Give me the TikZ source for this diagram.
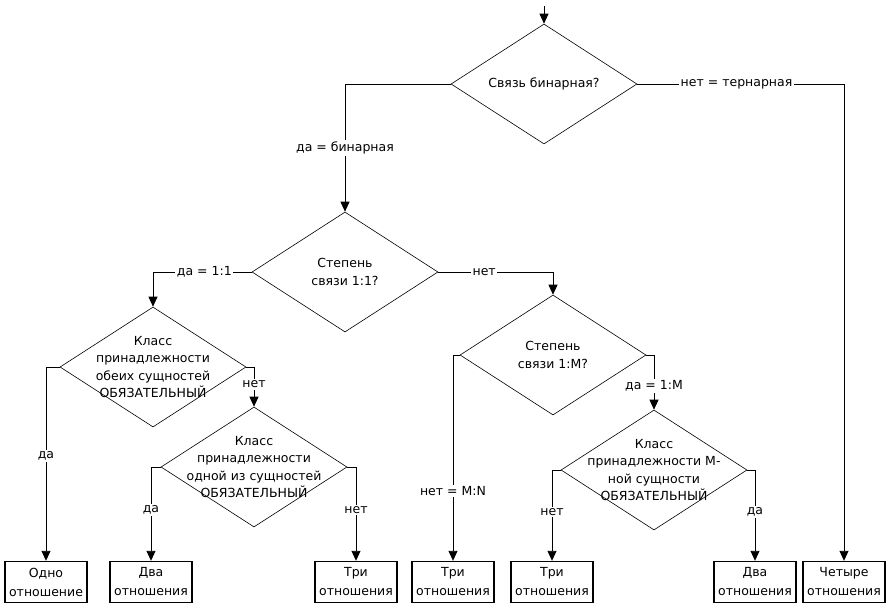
\documentclass[tikz,border=0pt]{standalone}
\usepackage{fontspec}
\setmainfont{DejaVu Sans}
\usetikzlibrary{shapes.geometric,arrows.meta}
\tikzset{
	dec/.style={draw,diamond,minimum width=186pt,minimum height=120pt,inner sep=0pt,line width=0.6pt},
	res/.style={draw,line width=1.4pt,minimum width=82pt,minimum height=41pt,align=center,inner sep=0pt,font=\fontsize{12.5}{19}\selectfont},
	txt/.style={align=center,inner sep=0pt},
	lbl/.style={fill=white,inner sep=1.5pt},
	arr/.style={-{Triangle[width=9pt,length=10pt]},line width=0.9pt},
}
\begin{document}
\begin{tikzpicture}[x=1pt,y=-1pt,font=\fontsize{12.5}{17.5}\selectfont]
			\useasboundingbox (0,0) rectangle (892,608);
			% questions
			\node[dec] (d1) at (544,84) {};
			\node[dec] (d2) at (345,272) {};
			\node[dec] (d3) at (153,367) {};
			\node[dec] (d4) at (553,355) {};
			\node[dec] (d5) at (254,467) {};
			\node[dec] (d6) at (654,470) {};
			\node[txt] (t1) at (d1) {Связь бинарная?};
			\node[txt] (t2) at (d2) {Степень\\связи 1:1?};
			\node[txt] (t3) at (d3) {Класс\\принадлежности\\обеих сущностей\\ОБЯЗАТЕЛЬНЫЙ};
			\node[txt] (t4) at (d4) {Степень\\связи 1:M?};
			\node[txt] (t5) at (d5) {Класс\\принадлежности\\одной из сущностей\\ОБЯЗАТЕЛЬНЫЙ};
			\node[txt] (t6) at (d6) {Класс\\принадлежности M-\\ной сущности\\ОБЯЗАТЕЛЬНЫЙ};
			% answers
			\node[res] (r1) at (46,582) {Одно\\отношение};
			\node[res] (r2) at (151,582) {Два\\отношения};
			\node[res] (r3) at (356,582) {Три\\отношения};
			\node[res] (r4) at (453,582) {Три\\отношения};
			\node[res] (r5) at (552,582) {Три\\отношения};
			\node[res] (r6) at (755,582) {Два\\отношения};
			\node[res] (r7) at (844,582) {Четыре\\отношения};
			\coordinate (start) at (544,6);
			% connectors
			\draw[arr] (start)--(d1.north);
			\draw[arr] (d1.west) -| node[pos=0.75,lbl]{да = бинарная} (d2.north);
			\draw[arr] (d1.east) -| node[pos=0.24,lbl]{нет = тернарная} (r7.north);
			\draw[arr] (d2.west) -| node[pos=0.24,lbl]{да = 1:1} (d3.north);
			\draw[arr] (d2.east) -| node[pos=0.2,lbl]{нет} (d4.north);
			\draw[arr] (d3.west) -| node[pos=0.73,lbl]{да} (r1.north);
			\draw[arr] (d3.east) -| node[pos=0.72,lbl]{нет} (d5.north);
			\draw[arr] (d5.west) -| node[pos=0.73,lbl]{да} (r2.north);
			\draw[arr] (d5.east) -| node[pos=0.73,lbl]{нет} (r3.north);
			\draw[arr] (d4.west) -| node[pos=0.83,lbl]{нет = M:N} (r4.north);
			\draw[arr] (d4.east) -| node[pos=0.78,lbl]{да = 1:M} (d6.north);
			\draw[arr] (d6.west) -| node[pos=0.73,lbl]{нет} (r5.north);
			\draw[arr] (d6.east) -| node[pos=0.73,lbl]{да} (r6.north);
		\end{tikzpicture}
\end{document}
